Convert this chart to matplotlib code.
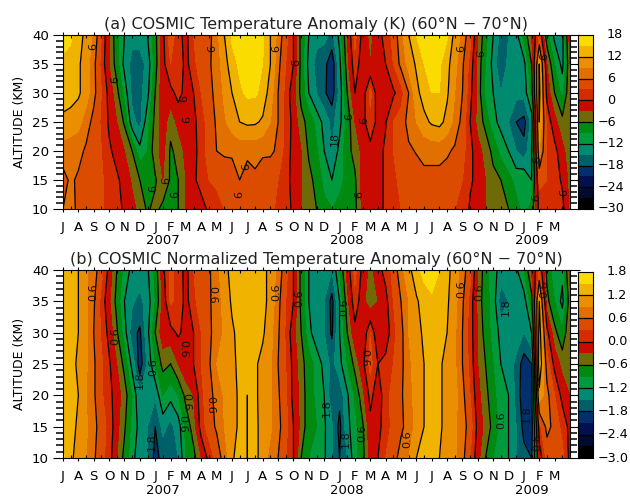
import numpy as np
import matplotlib
matplotlib.use('Agg')
import matplotlib.pyplot as plt
from matplotlib.colors import ListedColormap, BoundaryNorm

plt.rcParams['contour.negative_linestyle'] = 'solid'

# months from Jul 2006, half month steps
months = [i * 0.5 for i in range(67)]
altitudes = [10, 15, 20, 25, 30, 35, 40]

month_labels = list('JASONDJFMAMJJASONDJFMAMJJASONDJFM')
year_labels = ['2007', '2008', '2009']
year_months = [6.5, 18.5, 30.5]

colours = ['#000000', '#020a2e', '#021050', '#02306e', '#00606a', '#008a70',
           '#009a3c', '#008a10', '#6e6a08', '#c80a00', '#d42c00', '#dc4c00',
           '#e27000', '#ea9000', '#f0b400', '#fadc00']

# panel a, temperature anomaly in K
ta_10 = [6, 6.3, 5.8, 4.5, 4.5, 3.5, 1.5, 1, -0.5, -2, -4, -6.5, -5, -7, -7.5, -6, -3, -2, -1, 0.5, 2, 3, 4, 6, 4, 4.5, 4, 3.5, 2.5, 1, -0.5, -3, -4, -6,
         -8, -9, -8, -8.5, -7, -2, -1, -1, 0.5, 2, 3, 3, 3.5, 3.5, 3.5, 3.5, 3.5, 3, 2.5, -0.5, -2, -3, -5, -4.5, -6, -8, -10, -8, 1, 2.5, 2, 1, -4]
ta_15 = [5, 6.5, 5.5, 4.5, 4, 3.5, 1.5, 0.5, -1, -3.5, -6, -8, -6.5, -3, -6.5, -6, -3, -0.5, 1, 3, 3.5, 4, 4.5, 6, 5, 5.5, 5, 4, 3, 1, -1, -3, -5, -7,
         -10, -12, -10, -8, -6.5, -2, -1, -1, 0.5, 2.5, 3.5, 4, 4.5, 5, 5, 5, 4.5, 4, 3, 0.5, -1, -3, -5, -6, -8, -10, -9, -12, 4, 3, 1.5, -0.5, -4]
ta_20 = [7.5, 7, 7, 5.5, 4, 3, 0.5, -1, -3, -6, -11, -9, -4, -2, -6.5, -5, -2, -1.5, 2, 4, 6, 6.5, 6.5, 7, 6.5, 6.8, 6.3, 6.5, 5.5, 1.5, -1, -3, -6.5, -8.5,
         -12, -15, -11, -7, -5, -2, -1, -1, 0.5, 3, 4, 5.5, 6.2, 7, 7, 7, 6.5, 5.5, 4, 1, -2, -4, -7, -10, -12, -15, -17, -12, 9, 3, 1, -2, -5]
ta_25 = [11.5, 11, 10, 7.5, 5, 2.5, -0.5, -3, -6.5, -14, -16, -10, -5, -1, -5, -2, 0, -1, 2, 4, 6.5, 8.5, 10.5, 12, 12.7, 12.5, 11.5, 9, 6, 2, -1, -5, -7, -10,
         -13, -16, -13, -8, -3, -1, 2, -1, -0.2, 3, 4.5, 7, 9, 11, 12.5, 13, 11, 8, 5, 0, -4, -7, -11, -13, -15, -18, -19, -14, 12, 2, -2, -5, -5]
ta_30 = [13, 13, 12.5, 10.5, 7, 3, -1, -5, -10, -16, -16, -13, -6, -1, -1, 1, -1, 0, 3, 5, 7, 9.5, 12, 14.5, 15.5, 15.5, 14, 10.5, 6, 2, -2, -7, -12, -15,
         -17.5, -19.5, -14, -6, 0, -2, 4, -2, -1, -0.5, 1.5, 6, 11, 13.5, 15, 15, 12.5, 9, 6, 1, -4, -10, -12, -15, -14, -14, -14, -8, 13, -1, -6, -10, -3]
ta_35 = [14.5, 14, 12.5, 10.5, 7, 2, -3, -7.5, -13, -16, -16.5, -14, -7.5, -1, 3, 2, -1, 2, 5, 5.5, 7.5, 10.5, 14, 15.5, 16, 16, 15, 12, 7, 3, 0, -7, -13, -16,
         -17, -20, -13, -4, 2, -2, -3, -2, 0, 3, 7, 10, 12.5, 15, 16, 15.5, 13, 10, 6.5, 2, -4, -9, -13, -18, -14, -15, -13, -6, 12, -3, -9, -13, -3]
ta_40 = [16, 15.5, 13.5, 11, 8.5, 3, -3, -8, -12, -14, -13.5, -12, -7, -1, 5, 1, -1, 3, 5, 5, 8, 12, 15.5, 16, 16.5, 16, 15.5, 12, 8, 4, 0, -7, -12, -14,
         -14, -16, -11, -3, 4, -1, -4, -1, 1, 4, 8, 12, 15, 16.5, 17, 16.5, 15.5, 11, 8, 4, -3, -8, -12, -16, -15, -13, -8, -3, 3, -8, -13, -13, -1]

# panel b, normalized anomaly
tb_10 = [1.55, 1.3, 1.0, .9, .65, .4, .15, -.3, -.7, -1.1, -1.4, -1.5, -1.9, -1.7, -1.8, -1.5, -.9, -.7, -.3, .1, .4, .75, 1.1, 1.5, 1.2, 1.3, 1.05, .8, .6, .3, 0, -.6, -.9, -1.0,
         -1.15, -1.5, -1.8, -1.5, -1, -.7, -.2, 0, .3, .5, .7, .9, 1.2, 1.3, 1.3, 1.2, 1.1, .95, .7, .3, -.2, -.6, -.9, -1.0, -1.2, -1.5, -1.7, -1.8, -.2, .4, .6, .4, -.1]
tb_15 = [1.4, 1.3, 1.15, .95, .7, .45, .2, -.2, -.55, -1.0, -1.3, -1.5, -1.8, -1.4, -1.6, -1.35, -.8, -.45, .15, .45, .65, .9, 1.1, 1.25, 1.2, 1.3, 1.05, .95, .7, .4, 0, -.4, -.8, -.9,
         -1.15, -1.45, -1.9, -1.3, -1, -.65, -.1, -.1, .15, .4, .55, .7, 1, 1.2, 1.3, 1.25, 1.1, .95, .75, .45, -.1, -.4, -.7, -1.0, -1.2, -1.5, -1.9, -2.0, .2, .7, .5, .2, -.1]
tb_20 = [1.3, 1.25, 1.2, .9, .65, .35, .1, -.15, -.45, -.9, -1.5, -1.4, -1.45, -.9, -1.1, -.9, -.5, -.3, .2, .55, .65, .95, 1.1, 1.25, 1.2, 1.25, 1.1, .95, .65, .35, -.1, -.4, -.8, -.95,
         -1.2, -1.7, -1.7, -1.25, -.85, -.4, .1, -.2, .2, .4, .55, .8, 1.0, 1.2, 1.3, 1.25, 1.1, 1.0, .7, .3, -.2, -.5, -.8, -1.1, -1.2, -1.6, -2.0, -1.95, 1.1, .7, .3, -.1, -.3]
tb_25 = [1.35, 1.3, 1.15, .95, .65, .35, .05, -.3, -.7, -1.3, -1.95, -1.45, -.9, -.5, -.6, -.3, -.05, 0, .3, .55, .9, 1.0, 1.15, 1.25, 1.3, 1.25, 1.1, .95, .6, .3, -.1, -.5, -.75, -1.0,
         -1.3, -1.6, -1.3, -.9, -.5, -.1, .4, 0, .1, .3, .5, .85, 1.0, 1.2, 1.3, 1.25, 1.1, .95, .6, .2, -.3, -.6, -.9, -1.2, -1.3, -1.6, -1.95, -1.8, 1.5, .45, -.1, -.4, -.6]
tb_30 = [1.3, 1.3, 1.2, 1.0, .6, .25, -.1, -.55, -1.05, -1.7, -1.85, -1.3, -.6, -.1, -.1, .05, -.1, 0, .3, .55, .7, .95, 1.15, 1.3, 1.35, 1.35, 1.25, 1.0, .65, .25, -.2, -.6, -1.1, -1.4,
         -1.5, -1.85, -1.2, -.6, -.1, -.3, .3, -.3, -.2, .2, .5, .9, 1.1, 1.25, 1.35, 1.4, 1.2, .95, .6, .15, -.3, -.75, -1.0, -1.3, -1.3, -1.3, -1.5, -1.2, 1.4, .1, -.5, -.85, -.3]
tb_35 = [1.35, 1.35, 1.2, .95, .65, .2, -.25, -.7, -1.2, -1.45, -1.6, -1.35, -.9, -.2, .35, .2, -.1, .2, .5, .55, .75, 1.0, 1.25, 1.35, 1.4, 1.4, 1.3, 1.1, .7, .3, 0, -.7, -1.2, -1.4,
         -1.5, -1.9, -1.2, -.4, .2, -.2, -.5, -.3, -.1, .3, .6, .9, 1.15, 1.35, 1.45, 1.4, 1.25, 1.0, .65, .2, -.4, -.8, -1.0, -1.7, -1.5, -1.3, -1.35, -.7, 1.2, -.5, -.9, -1.3, -.4]
tb_40 = [1.45, 1.4, 1.2, .95, .75, .4, -.1, -.6, -1.0, -1.3, -1.3, -1.25, -.8, -.1, .4, .15, -.1, .3, .45, .55, .8, 1.1, 1.3, 1.4, 1.45, 1.4, 1.3, 1.1, .8, .4, 0, -.7, -1.2, -1.3,
         -1.35, -1.5, -.9, -.2, .4, -.1, -.4, -.1, .1, .4, .8, 1.1, 1.4, 1.6, 1.65, 1.5, 1.3, 1.05, .75, .4, -.3, -.8, -1.1, -1.3, -1.3, -1.25, -.9, -.3, .3, -.7, -1.1, -1.1, -.2]

temp_a = np.array([ta_10, ta_15, ta_20, ta_25, ta_30, ta_35, ta_40])
temp_b = np.array([tb_10, tb_15, tb_20, tb_25, tb_30, tb_35, tb_40])

levels_a = np.arange(-30, 18.1, 3)
levels_b = np.arange(-3.0, 1.81, 0.3)
cmap = ListedColormap(colours)

# contour labels: text, month, altitude, rotation
labels_a = [('6', 2.0, 38, 90), ('6', 3.4, 32.3, 90), ('6', 7.9, 29, 90), ('6', 8.1, 25.4, 90), ('6', 9.7, 37.7, 90),
            ('6', 13.9, 37.7, 90), ('6', 15.2, 35.3, 90), ('6', 5.9, 13.5, 90), ('6', 6.7, 15, 90), ('6', 7.3, 12.5, 90),
            ('6', 11.5, 12.5, 90), ('6', 11.9, 17.3, 90), ('18', 17.7, 22, 90), ('6', 18.6, 26, 90), ('6', 19.6, 25.2, 90),
            ('6', 19.3, 12.5, 90), ('6', 25.9, 37.7, 90), ('6', 27.2, 36.8, 90), ('6', 30.8, 12, 90), ('6', 30.9, 18.5, 90),
            ('6', 31.3, 36.3, 90), ('6', 32.6, 12.8, 90)]
labels_b = [('0.6', 1.95, 36.5, 90), ('0.6', 3.4, 29.5, 90), ('1.8', 5.0, 22.5, 90), ('0.6', 5.9, 24.5, 90), ('0.6', 7.8, 27.5, 270),
            ('0.6', 8.0, 19, 270), ('0.6', 7.75, 15.5, 270), ('0.6', 9.7, 36, 270), ('0.6', 9.6, 18.5, 270), ('0.6', 13.9, 36.5, 90),
            ('0.6', 15.4, 35.5, 90), ('1.8', 5.8, 12.5, 90), ('1.8', 17.2, 18, 90), ('0.6', 18.3, 34, 90), ('0.6', 19.6, 26, 270),
            ('1.8', 18.4, 13, 90), ('0.6', 19.5, 14, 90), ('0.6', 22.4, 13, 90), ('0.6', 25.9, 37, 90), ('0.6', 27.1, 36.5, 90),
            ('1.8', 28.8, 34, 90), ('0.6', 28.5, 16, 90), ('1.8', 30.2, 17, 90), ('0.6', 30.8, 22, 90), ('0.6', 30.9, 12.5, 90),
            ('0.6', 31.3, 37, 90)]


def minus(s):
    return s.replace('-', '\u2212')


def draw_panel(ax, cax, data, levels, line_levels, labels, title, cbar_ticks, cbar_labels, year_drop):
    norm = BoundaryNorm(levels, cmap.N)
    ax.contourf(months, altitudes, data, levels=levels, cmap=cmap, norm=norm, extend='both')
    ax.contour(months, altitudes, data, levels=line_levels, colors='black', linewidths=0.9)
    for txt, m, z, rot in labels:
        ax.text(m, z, txt, rotation=rot, ha='center', va='center', fontsize=8, color='#111111')

    ax.set_xlim(0, 33)
    ax.set_ylim(10, 40)
    ax.set_yticks(range(10, 41, 5))
    ax.set_yticks(range(10, 41, 1), minor=True)
    ax.set_ylabel('ALTITUDE (KM)', fontsize=9, labelpad=4)
    ax.tick_params(axis='y', which='major', direction='out', length=7.2, width=0.8, labelsize=9.6, pad=3,
                   right=True)
    ax.tick_params(axis='y', which='minor', direction='out', length=5, width=1.1, right=True)

    ax.set_xticks(months[::2][:33])
    ax.set_xticklabels(month_labels)
    ax.tick_params(axis='x', which='major', direction='out', length=2.5, width=0.8, labelsize=9.5, pad=6,
                   top=True)
    ax.set_xticks(months[1::2], minor=True)
    ax.tick_params(axis='x', which='minor', direction='in', length=2, width=0.8, top=True)
    ax.set_title(title, fontsize=11.5, pad=4.5, color='#222222')
    for m, yr in zip(year_months, year_labels):
        ax.annotate(yr, (m, 0), xycoords=('data', 'axes fraction'), xytext=(0, -year_drop * 0.72),
                    textcoords='offset points', ha='center', va='center', fontsize=9.5)

    cax.pcolormesh([0, 1], levels, np.array(levels[:-1]).reshape(-1, 1) + 0.01, cmap=cmap, norm=norm)
    cax.hlines(line_levels, 0, 1, colors='black', linewidth=0.9)
    cax.set_xticks([])
    cax.set_yticks([])
    cax.set_ylim(levels[0], levels[-1])
    for t, lab in zip(cbar_ticks, cbar_labels):
        # digits line up, the minus sign hangs to the left
        off = 5 if lab.startswith('-') else 14
        cax.annotate(minus(lab), (1, t), xycoords=('axes fraction', 'data'), xytext=(off * 0.72, 0),
                     textcoords='offset points', ha='left', va='center', fontsize=9.2, annotation_clip=False)


fig = plt.figure(figsize=(6.30, 4.96), dpi=100)


def px_axes(x0, x1, y0, y1):
    # pixel box (top-left origin) to a figure axes
    return fig.add_axes([x0 / 630, 1 - y1 / 496, (x1 - x0) / 630, (y1 - y0) / 496])


ax_a = px_axes(63, 570, 35, 209)
cax_a = px_axes(577.5, 593, 35, 209)
ax_b = px_axes(63, 570, 270, 458)
cax_b = px_axes(577.5, 593, 272, 458)

draw_panel(ax_a, cax_a, temp_a, levels_a, np.arange(-24, 13, 6), labels_a,
           '(a) COSMIC Temperature Anomaly (K) (60\u00b0N \u2212 70\u00b0N)',
           [-30, -24, -18, -12, -6, 0, 6, 12, 18],
           ['-30', '-24', '-18', '-12', '-6', '0', '6', '12', '18'], 31)
draw_panel(ax_b, cax_b, temp_b, levels_b, np.arange(-2.4, 1.21, 0.6), labels_b,
           '(b) COSMIC Normalized Temperature Anomaly (60\u00b0N \u2212 70\u00b0N)',
           [-3.0, -2.4, -1.8, -1.2, -0.6, 0.0, 0.6, 1.2, 1.8],
           ['-3.0', '-2.4', '-1.8', '-1.2', '-0.6', '0.0', '0.6', '1.2', '1.8'], 32)

fig.savefig('out.png', dpi=100)
